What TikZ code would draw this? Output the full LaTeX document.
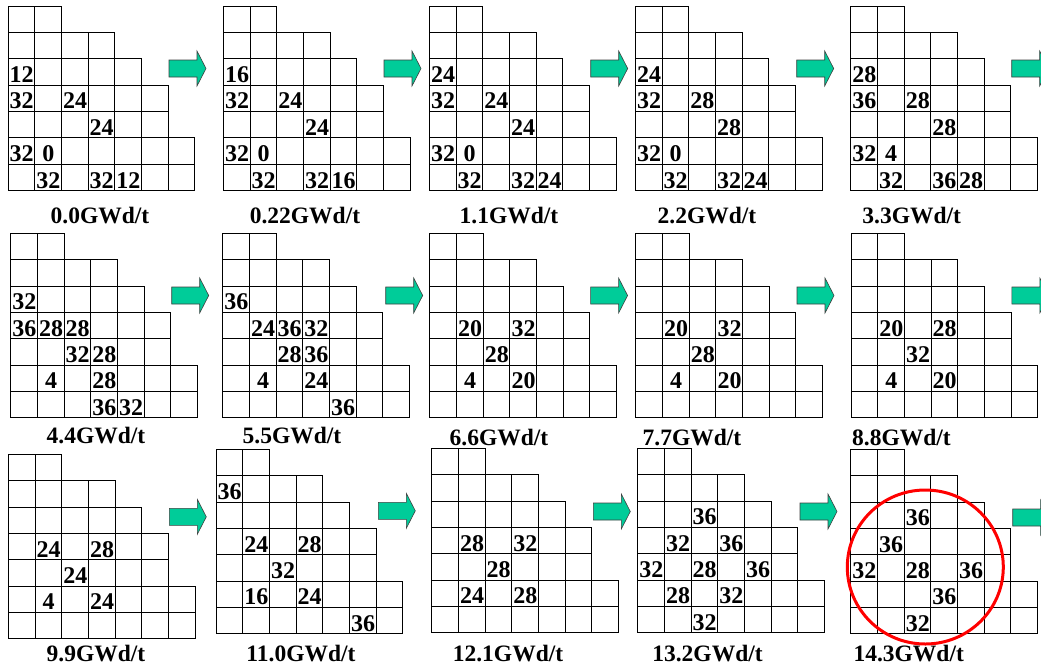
\documentclass[tikz,border=0pt]{standalone}
\usepackage{fontspec}
\setmainfont{Liberation Serif}
\definecolor{arrowgreen}{HTML}{00CC99}
\tikzset{
  cell/.style={draw=black, line width=0.9pt},
  num/.style={anchor=base west, inner sep=0pt, font=\fontsize{24}{24}\selectfont\bfseries},
  lbl/.style={anchor=base, inner sep=0pt, font=\fontsize{23.5}{24}\selectfont\bfseries},
  blockarrow/.style={fill=arrowgreen, draw=black!75, line width=0.6pt},
  ring/.style={draw=red, line width=3pt},
}
% staircase grid of one panel
\newcommand\panelgrid[2]{%
  \begin{scope}[shift={(#1,#2)}]
    \foreach \r/\L in {0/2,1/4,2/5,3/6,4/6,5/7,6/7}{
      \foreach \c in {1,...,\L}{
        \draw[cell] ({(\c-1)*26.67},{\r*26.36}) rectangle ++(26.67,26.36);
      }
    }
  \end{scope}}
% numbers of one panel: entries col/row/text/extra shift
\newcommand\panelnums[4]{%
  \begin{scope}[shift={(#2,#3)}]
    \foreach \c/\r/\t/\s in {#4}{
      \node[num] (#1-\c-\r) at ({\c*26.67+1.5+\s},{(\r+1)*26.36-2.5}) {\t};
    }
  \end{scope}}
\newcommand\blkarrow[2]{%
  \draw[blockarrow] (#1,#2+9) -- ++(28,0) -- ++(0,-9) -- ++(9,17.5)
    -- ++(-9,17.5) -- ++(0,-9) -- ++(-28,0) -- cycle;}
\begin{document}
\begin{tikzpicture}[x=1pt,y=-1pt]
\clip (0,0) rectangle (1041,670);
\fill[white] (0,0) rectangle (1041,670);

% ---------- row 1 ----------
\panelgrid{8}{6}
\panelnums{p1}{8}{6}{0/2/12/0, 0/3/32/0, 2/3/24/0, 3/4/24/0, 0/5/32/0, 1/5/0/6, 1/6/32/0, 3/6/32/0, 4/6/12/0}
\panelgrid{223.3}{6}
\panelnums{p2}{223.3}{6}{0/2/16/0, 0/3/32/0, 2/3/24/0, 3/4/24/0, 0/5/32/0, 1/5/0/6, 1/6/32/0, 3/6/32/0, 4/6/16/0}
\panelgrid{429.3}{6}
\panelnums{p3}{429.3}{6}{0/2/24/0, 0/3/32/0, 2/3/24/0, 3/4/24/0, 0/5/32/0, 1/5/0/6, 1/6/32/0, 3/6/32/0, 4/6/24/0}
\panelgrid{635.3}{6}
\panelnums{p4}{635.3}{6}{0/2/24/0, 0/3/32/0, 2/3/28/0, 3/4/28/0, 0/5/32/0, 1/5/0/6, 1/6/32/0, 3/6/32/0, 4/6/24/0}
\panelgrid{850.7}{6}
\panelnums{p5}{850.7}{6}{0/2/28/0, 0/3/36/0, 2/3/28/0, 3/4/28/0, 0/5/32/0, 1/5/4/6, 1/6/32/0, 3/6/36/0, 4/6/28/0}

\node[lbl] (l1) at (100,223.5) {0.0GWd/t};
\node[lbl] (l2) at (305,223.5) {0.22GWd/t};
\node[lbl] (l3) at (509,223.5) {1.1GWd/t};
\node[lbl] (l4) at (707,223.5) {2.2GWd/t};
\node[lbl] (l5) at (911.7,223.5) {3.3GWd/t};

\blkarrow{169}{51}
\blkarrow{384}{51}
\blkarrow{590.7}{51}
\blkarrow{796.7}{51}
\blkarrow{1011.7}{51}

% ---------- row 2 ----------
\panelgrid{10.7}{233.3}
\panelnums{p6}{10.7}{233.3}{0/2/32/0, 0/3/36/0, 1/3/28/0, 2/3/28/0, 2/4/32/0, 3/4/28/0, 1/5/4/6, 3/5/28/0, 3/6/36/0, 4/6/32/0}
\panelgrid{222.7}{233.3}
\panelnums{p7}{222.7}{233.3}{0/2/36/0, 1/3/24/0, 2/3/36/0, 3/3/32/0, 2/4/28/0, 3/4/36/0, 1/5/4/6, 3/5/24/0, 4/6/36/0}
\panelgrid{429.8}{233.3}
\panelnums{p8}{429.8}{233.3}{1/3/20/0, 3/3/32/0, 2/4/28/0, 1/5/4/6, 3/5/20/0}
\panelgrid{635.8}{233.3}
\panelnums{p9}{635.8}{233.3}{1/3/20/0, 3/3/32/0, 2/4/28/0, 1/5/4/6, 3/5/20/0}
\panelgrid{851}{233.3}
\panelnums{p10}{851}{233.3}{1/3/20/0, 3/3/28/0, 2/4/32/0, 1/5/4/6, 3/5/20/0}

\node[lbl] (l6) at (96,443.5) {4.4GWd/t};
\node[lbl] (l7) at (292,443.5) {5.5GWd/t};
\node[lbl] (l8) at (499,445) {6.6GWd/t};
\node[lbl] (l9) at (692,445) {7.7GWd/t};
\node[lbl] (l10) at (901.5,445) {8.8GWd/t};

\blkarrow{171.7}{278}
\blkarrow{385.7}{278}
\blkarrow{590.6}{278}
\blkarrow{797}{278}
\blkarrow{1011.8}{278}

% ---------- row 3 ----------
\panelgrid{8.3}{454.3}
\panelnums{p11}{8.3}{454.3}{1/3/24/0, 3/3/28/0, 2/4/24/0, 1/5/4/6, 3/5/24/0}
\panelgrid{216}{449.3}
\panelnums{p12}{216}{449.3}{0/1/36/0, 1/3/24/0, 3/3/28/0, 2/4/32/0, 1/5/16/0, 3/5/24/0, 5/6/36/0}
\panelgrid{431.7}{448.3}
\panelnums{p13}{431.7}{448.3}{1/3/28/0, 3/3/32/0, 2/4/28/0, 1/5/24/0, 3/5/28/0}
\panelgrid{637.7}{448.3}
\panelnums{p14}{637.7}{448.3}{2/2/36/0, 1/3/32/0, 3/3/36/0, 0/4/32/0, 2/4/28/0, 4/4/36/0, 1/5/28/0, 3/5/32/0, 2/6/32/0}
\panelgrid{850.7}{449.3}
\panelnums{p15}{850.7}{449.3}{2/2/36/0, 1/3/36/0, 0/4/32/0, 2/4/28/0, 4/4/36/0, 3/5/36/0, 2/6/32/0}

\node[lbl] (l11) at (96,661.7) {9.9GWd/t};
\node[lbl] (l12) at (301,661.7) {11.0GWd/t};
\node[lbl] (l13) at (508,661.7) {12.1GWd/t};
\node[lbl] (l14) at (707.5,661.7) {13.2GWd/t};
\node[lbl] (l15) at (908.7,661.7) {14.3GWd/t};

\blkarrow{169.3}{499.3}
\blkarrow{378.3}{493.3}
\blkarrow{593.3}{494}
\blkarrow{800}{494}
\blkarrow{1012.7}{500}

% highlight ring
\coordinate (ringc) at (925.3,567);
\draw[ring] (ringc) ellipse [x radius=78pt, y radius=77pt];
\end{tikzpicture}
\end{document}
